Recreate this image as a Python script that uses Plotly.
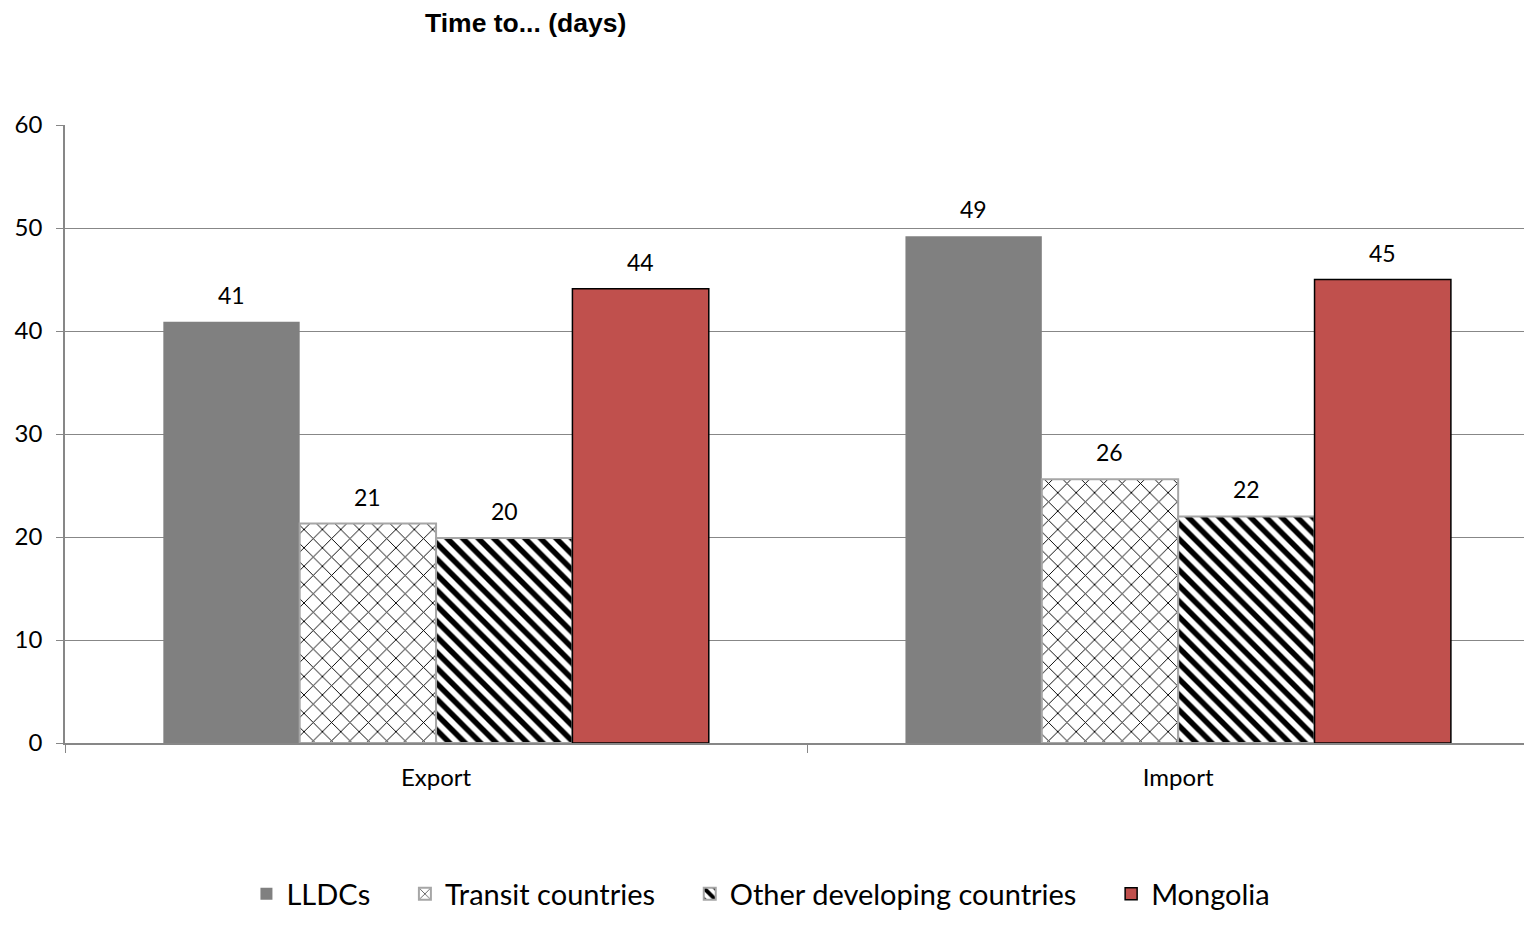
import plotly.graph_objects as go

categories = ["Export", "Import"]
series_names = ["LLDCs", "Transit countries", "Other developing countries", "Mongolia"]
lldcs = [40.9, 49.2]
transit = [21.3, 25.6]
other = [19.9, 22.0]
mongolia = [44.1, 45.0]
series_values = [lldcs, transit, other, mongolia]

FONT = "Lato"
# page body has an 8px margin; figure sized so the page is 1532x925
W, H = 1516, 909
ML, MR, MT, MB = 57, 0, 117, 174
XR = [-0.5, 1.466]
BARGAP = 0.265
PAD = "\u00a0" * 4  # extra spacing between legend entries

styles = [
    dict(color="#808080", line=dict(color="#808080", width=0)),
    dict(color="white", line=dict(color="#A6A6A6", width=2),
         pattern=dict(shape="x", fgcolor="black", bgcolor="white", fgopacity=1,
                      size=13, solidity=0.14)),
    dict(color="white", line=dict(color="#A6A6A6", width=2),
         pattern=dict(shape="\\", fgcolor="black", bgcolor="white", fgopacity=1,
                      size=11, solidity=0.5)),
    dict(color="#C0504D", line=dict(color="black", width=1.5)),
]

fig = go.Figure()
for i, (name, vals, mk) in enumerate(zip(series_names, series_values, styles)):
    label = name + (PAD if i < len(series_names) - 1 else "")
    fig.add_trace(go.Bar(name=label, x=categories, y=vals, marker=mk))

# data labels
plot_w = W - ML - MR
px_per_unit = plot_w / (XR[1] - XR[0])
bar_w = px_per_unit * (1 - BARGAP) / len(series_names)
for i, vals in enumerate(series_values):
    for cat, v in zip(categories, vals):
        fig.add_annotation(x=cat, y=v, text=f"{v:.0f}", showarrow=False,
                           xshift=(i - 1.5) * bar_w, yshift=27,
                           font=dict(family=FONT, size=23, color="black"))

fig.update_layout(
    width=W, height=H,
    margin=dict(l=ML, r=MR, t=MT, b=MB, autoexpand=False),
    paper_bgcolor="white", plot_bgcolor="white",
    barmode="group", bargap=BARGAP, bargroupgap=0,
    font=dict(family=FONT, size=24, color="black"),
    title=dict(text="<b>Time to... (days)</b>", x=417 / W, xanchor="left",
               y=1 - 15 / H, yanchor="middle", yref="container",
               font=dict(family="Liberation Sans", size=26.5, color="black")),
    legend=dict(orientation="h", x=0.477, xanchor="center",
                y=1 - 886 / H, yanchor="middle", yref="container",
                font=dict(family=FONT, size=29), itemclick=False),
    showlegend=True,
)
fig.update_xaxes(range=XR, showline=True, linecolor="#878787", linewidth=1.5,
                 ticks="outside", tickson="boundaries", ticklen=8, tickcolor="#878787",
                 showgrid=False, ticklabelstandoff=12, tickfont=dict(size=24),
                 automargin=False)
fig.update_yaxes(range=[0, 60], dtick=10, showline=True, linecolor="#878787", linewidth=1.5,
                 ticks="outside", ticklen=7, tickcolor="#878787",
                 showgrid=True, gridcolor="#878787", gridwidth=1.2, zeroline=False,
                 ticklabelstandoff=9, tickfont=dict(size=24), automargin=False)
fig.write_html("out.html")
